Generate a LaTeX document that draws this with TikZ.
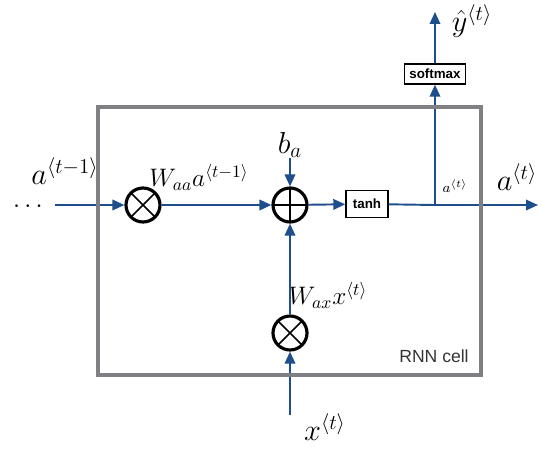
\documentclass[tikz,border=0pt]{standalone}
\usepackage{amsmath}
\usepackage{fontspec}
\setsansfont{Liberation Sans}
\usetikzlibrary{arrows.meta,positioning}
\definecolor{rnnblue}{RGB}{31,78,140}
\definecolor{cellgray}{RGB}{128,128,132}
\tikzset{
	>={Triangle[length=2.4mm,width=2.1mm]},
	flow/.style={->,draw=rnnblue,line width=1.1pt},
	wire/.style={draw=rnnblue,line width=1.1pt},
	opbox/.style={draw,rectangle,line width=0.8pt,inner sep=0pt,font=\sffamily\bfseries\fontsize{7.6}{9}\selectfont},
	mult/.style={circle,draw,line width=1.8pt,minimum size=0.68cm,inner sep=0pt,
		path picture={\draw[line width=0.9pt] (path picture bounding box.north west) -- (path picture bounding box.south east)
			(path picture bounding box.north east) -- (path picture bounding box.south west);}},
	add/.style={circle,draw,line width=1.8pt,minimum size=0.68cm,inner sep=0pt,
		path picture={\draw[line width=1.4pt] (path picture bounding box.north) -- (path picture bounding box.south)
			(path picture bounding box.west) -- (path picture bounding box.east);}},
	lbl/.style={inner sep=0pt,font=\LARGE},
	sublbl/.style={inner sep=0pt,font=\Large}
}
\begin{document}
\begin{tikzpicture}[x=0.02cm,y=-0.02cm]
	\useasboundingbox (0,0) rectangle (542,453);
	% operations
	\node[mult] (mulA) at (143,205) {};
	\node[add] (add) at (290,205) {};
	\node[mult] (mulX) at (290,333) {};
	\node[opbox,minimum width=0.84cm,minimum height=0.54cm] (tanh) at (367,204) {tanh};
	\node[opbox,minimum width=1.22cm,minimum height=0.4cm] (soft) at (435,74) {softmax};
	\node[coordinate] (split) at (435,205) {};
	% labels
	\node[lbl,font=\Large] (prev) at (30,207) {$\cdots$};
	\node[lbl] (aprev) at (65,171) {$a^{\langle t-1\rangle}$};
	\node[sublbl] (waa) at (199,177) {$W_{aa}a^{\langle t-1\rangle}$};
	\node[lbl] (bias) at (290,145) {$b_a$};
	\node[sublbl] (wax) at (328,295) {$W_{ax}x^{\langle t\rangle}$};
	\node[lbl] (xt) at (325,427) {$x^{\langle t\rangle}$};
	\node[inner sep=0pt,font=\footnotesize] (asmall) at (455,186) {$a^{\langle t\rangle}$};
	\node[lbl] (anext) at (517,177) {$a^{\langle t\rangle}$};
	\node[lbl] (yhat) at (472,21) {$\hat{y}^{\langle t\rangle}$};
	\coordinate (xin) at (290,415);
	\coordinate (aout) at (538,205);
	\coordinate (yout) at (435,12);
	% connectors
	\draw[flow] (prev.east |- mulA) ++(8,0) -- (mulA);
	\draw[flow] (mulA) -- (add);
	\draw[flow] (bias) -- (add);
	\draw[flow] (add) -- (tanh);
	\draw[flow] (mulX) -- (add);
	\draw[flow] (xin) -- (mulX);
	\draw[wire] (tanh) -- (split);
	\draw[flow] (split) -- (aout);
	\draw[flow] (split) -- (soft);
	\draw[flow] (soft) -- (yout);
	% cell
	\draw[cellgray,line width=2.8pt] (98,107) rectangle (481,375);
	\node[font=\sffamily,text=black!80] (cell) at (434,356) {RNN cell};
\end{tikzpicture}
\end{document}
